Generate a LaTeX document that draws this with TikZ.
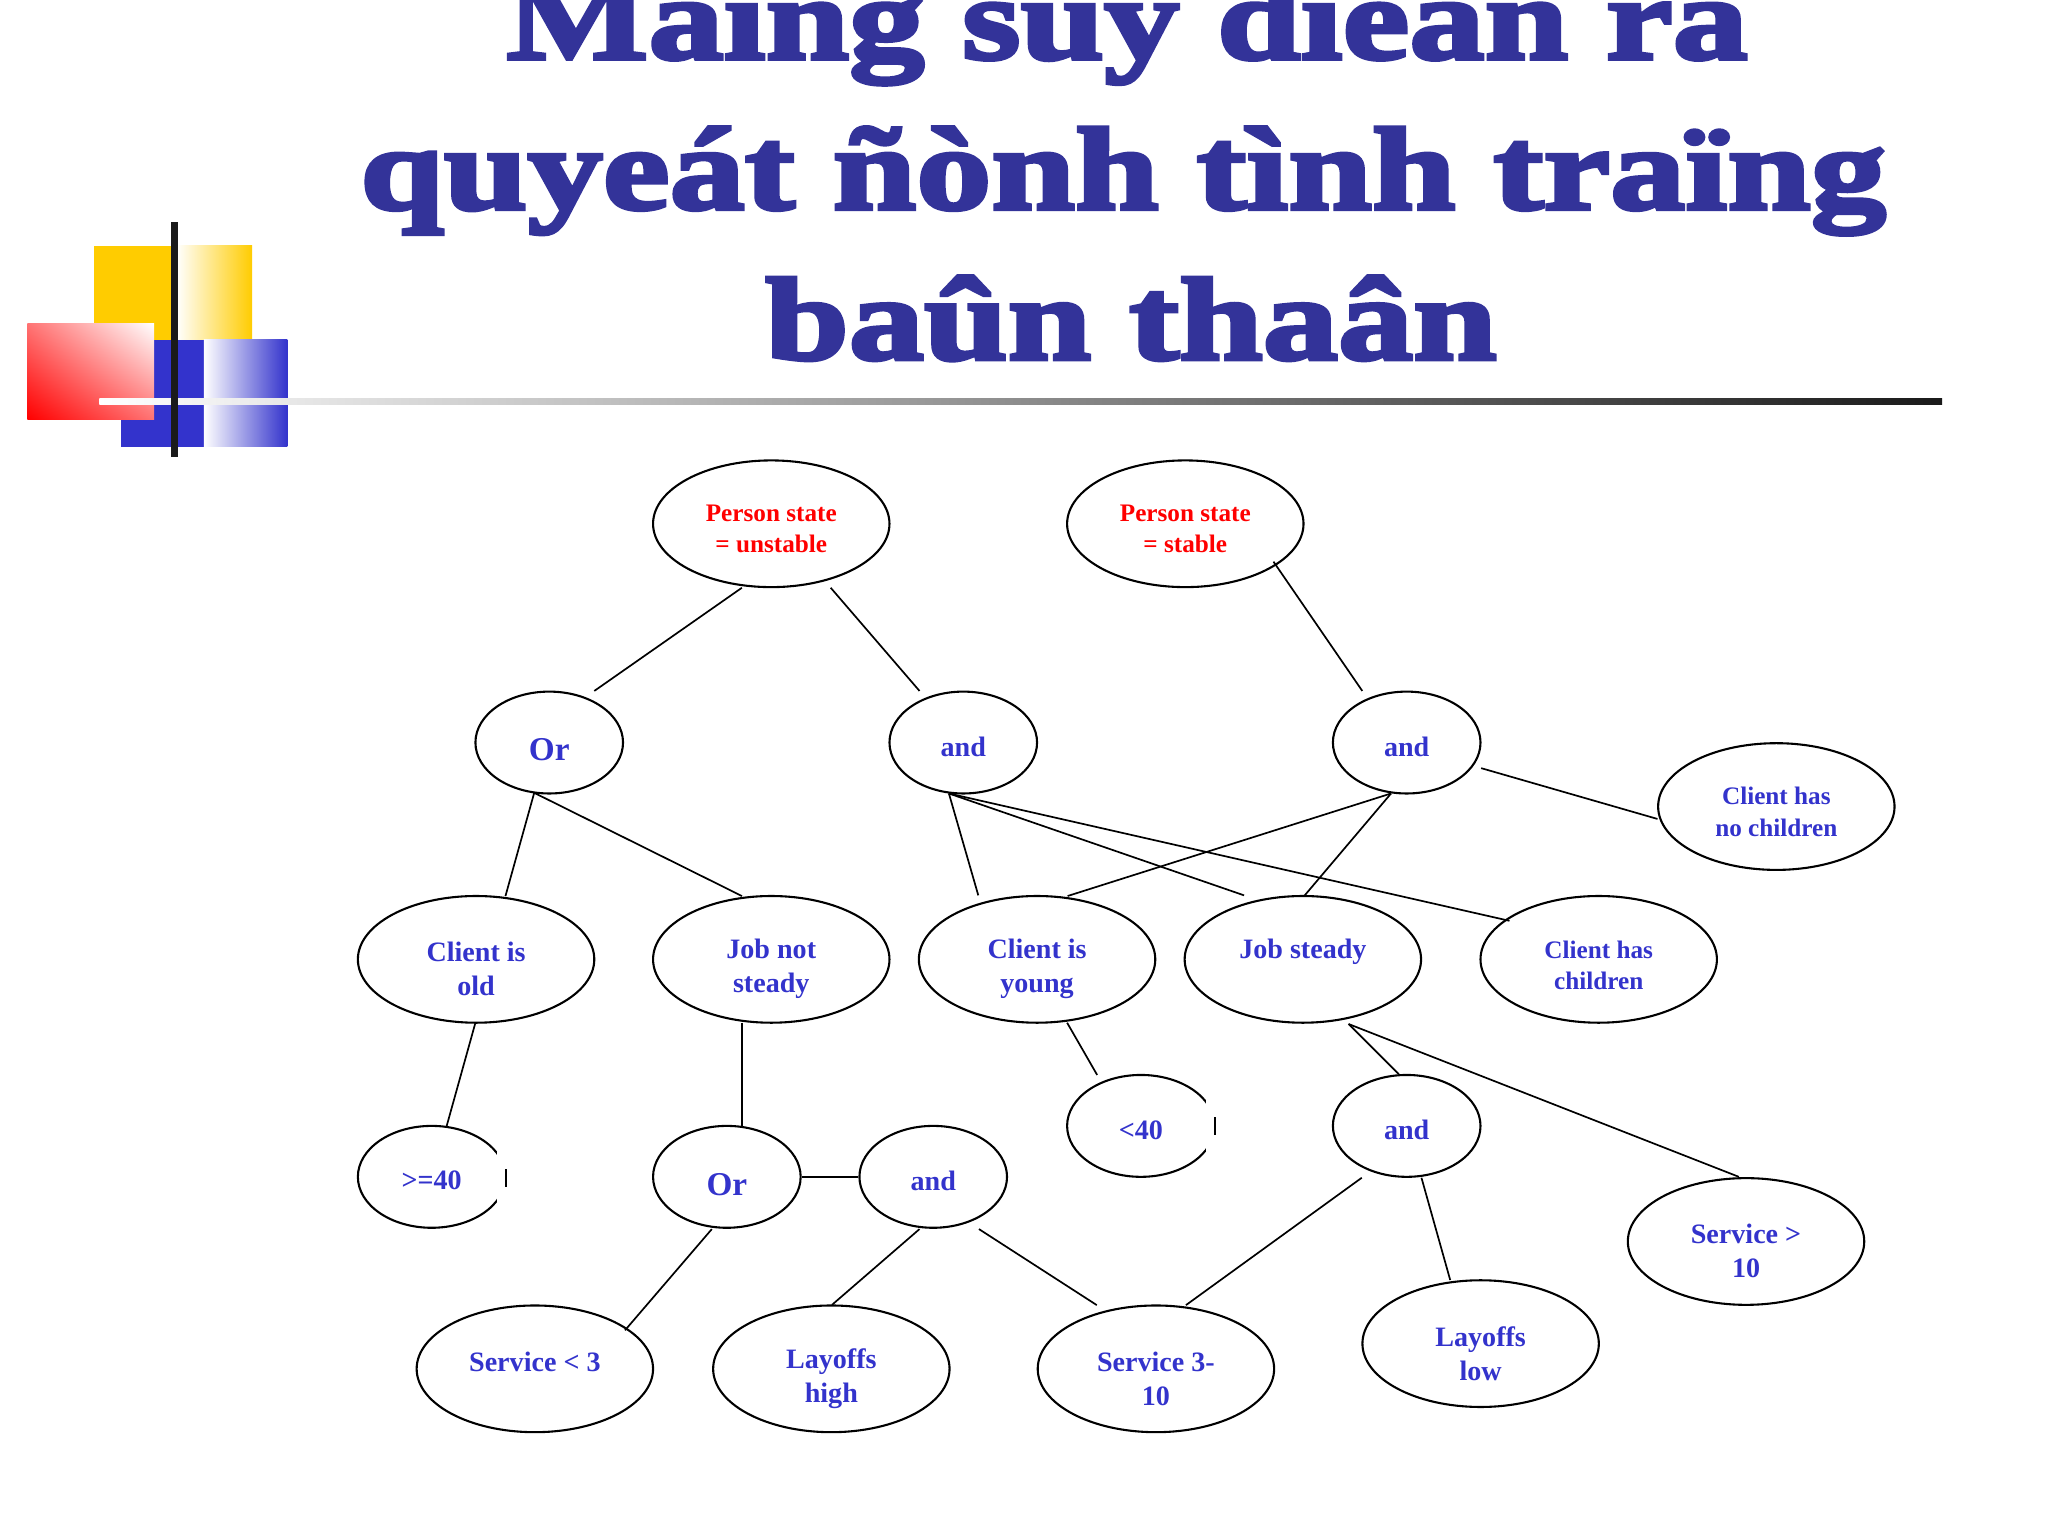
\documentclass[tikz,border=0pt]{standalone}
\usepackage{fontspec}
\setmainfont{Liberation Serif}
\newfontfamily\nodefont{Liberation Serif}
\newfontfamily\titlefont{Liberation Serif}[FakeStretch=1.28, BoldFeatures={FakeBold=3.5}]
\usetikzlibrary{shapes.geometric,shadings}
\definecolor{titleblue}{HTML}{333399}
\definecolor{nodeblue}{HTML}{3333CC}
\definecolor{nodered}{HTML}{FF0000}
\definecolor{decoyellow}{HTML}{FFCC00}
\definecolor{decoblue}{HTML}{3333CC}
\definecolor{barblack}{HTML}{1A1A1A}
\tikzset{
  ell/.style={ellipse, draw=black, line width=1.6pt, inner sep=0pt},
  bigell/.style={ell, minimum width=181pt, minimum height=97pt},
  smallell/.style={ell, minimum width=113pt, minimum height=78pt},
  conn/.style={draw=black, line width=1.3pt},
  txt/.style={font=\nodefont\bfseries\fontsize{21.5}{26}\selectfont, text=nodeblue, align=center, inner sep=0pt},
  txtsm/.style={txt, font=\nodefont\bfseries\fontsize{19.3}{24}\selectfont},
  txtred/.style={txtsm, text=nodered},
  txtbig/.style={txt, font=\nodefont\bfseries\fontsize{25.5}{30}\selectfont},
  titletxt/.style={font=\titlefont\bfseries\fontsize{90}{115}\selectfont, text=titleblue, inner sep=0pt, anchor=base},
  cover/.style={fill=white, draw=none},
}
\begin{document}
\begin{tikzpicture}[x=1pt, y=-1pt]
\useasboundingbox (0,0) rectangle (1568,1176);
\fill[white] (0,0) rectangle (1568,1176);

% decoration
\fill[decoyellow] (72,188) rectangle (135,260);
\shade[left color=white, right color=decoyellow] (135,188) rectangle (193,260);
\fill[decoblue] (93,260) rectangle (156,342);
\shade[left color=white, right color=decoblue] (156,260) rectangle (220,342);
\shade[upper left=red!55, upper right=white, lower left=red, lower right=red!55] (21,248) rectangle (118,321);
\shade[left color=white, right color=barblack] (76,305) rectangle (1487,310);
\fill[barblack] (131,170) rectangle (136,350);

% title
\node[titletxt] (t1) at (863,45) {Maïng suy dieãn ra};
\node[titletxt] (t2) at (860,160) {quyeát ñònh tình traïng};
\node[titletxt] (t3) at (866,275) {baûn thaân};

% ellipses
\node[bigell] (psu) at (590.5,401) {};
\node[bigell] (pss) at (907.5,401) {};
\node[smallell] (or1) at (420.5,568.5) {};
\node[smallell] (and1) at (737.5,568.5) {};
\node[smallell] (and2) at (1077,568.5) {};
\node[bigell] (nochild) at (1360,617.5) {};
\node[bigell] (old) at (364.5,734.5) {};
\node[bigell] (jns) at (590.5,734.5) {};
\node[bigell] (young) at (794,734.5) {};
\node[bigell] (js) at (997.5,734.5) {};
\node[bigell] (child) at (1224,734.5) {};
\node[smallell] (ge40) at (330.5,901) {};
\node[smallell] (lt40) at (873.5,862) {};
\node[smallell] (or2) at (556.5,901) {};
\node[smallell] (and3) at (714.5,901) {};
\node[smallell] (and4) at (1077,862) {};
\node[bigell] (sgt10) at (1336.8,950.5) {};
\node[bigell] (slt3) at (409.5,1048) {};
\node[bigell] (lhigh) at (636.5,1048) {};
\node[bigell] (s310) at (885,1048) {};
\node[bigell] (llow) at (1133.6,1028.7) {};

% broken right sides of the two small ellipses
\fill[cover] (380.5,875) rectangle (390,927);
\draw[line width=1.6pt] (387.2,895) -- (387.2,909);
\fill[cover] (923.5,836) rectangle (933,888);
\draw[line width=1.6pt] (930.2,855.5) -- (930.2,869);

% texts
\node[txtred] (psu-t) at ([yshift=-4pt]psu.center) {Person state\\= unstable};
\node[txtred] (pss-t) at ([yshift=-4pt]pss.center) {Person state\\= stable};
\node[txtbig] (or1-t) at ([yshift=-5.5pt]or1.center) {Or};
\node[txt] (and1-t) at ([yshift=-3.5pt]and1.center) {and};
\node[txt] (and2-t) at ([yshift=-3.5pt]and2.center) {and};
\node[txtsm] (nochild-t) at ([yshift=-4pt]nochild.center) {Client has\\no children};
\node[txt] (old-t) at ([yshift=-7pt]old.center) {Client is\\old};
\node[txt] (jns-t) at ([yshift=-7pt]jns.center) {Job not\\steady};
\node[txt] (young-t) at ([yshift=-7pt]young.center) {Client is\\young};
\node[txt] (js-t) at ([yshift=6pt]js.center) {Job steady};
\node[txtsm] (child-t) at ([yshift=-4.5pt]child.center) {Client has\\children};
\node[txt] (ge40-t) at ([yshift=-3pt]ge40.center) {>=40};
\node[txt] (lt40-t) at ([yshift=-3pt]lt40.center) {<40};
\node[txtbig] (or2-t) at ([yshift=-6pt]or2.center) {Or};
\node[txt] (and3-t) at ([yshift=-3pt]and3.center) {and};
\node[txt] (and4-t) at ([yshift=-3pt]and4.center) {and};
\node[txt] (sgt10-t) at ([yshift=-7pt]sgt10.center) {Service >\\10};
\node[txt] (slt3-t) at ([yshift=5.5pt]slt3.center) {Service < 3};
\node[txt] (lhigh-t) at ([yshift=-7.5pt]lhigh.center) {Layoffs\\high};
\node[txt] (s310-t) at ([yshift=-7.5pt]s310.center) {Service 3-\\10};
\node[txt] (llow-t) at ([yshift=-7.5pt]llow.center) {Layoffs\\low};

% connectors
\draw[conn] ([shift={(-22.5,49)}]psu.center) -- ([shift={(34.5,-39.5)}]or1.center);
\draw[conn] ([shift={(45.5,49)}]psu.center) -- ([shift={(-33.5,-39.5)}]and1.center);
\draw[conn] ([shift={(67.5,29)}]pss.center) -- ([shift={(-34,-39.5)}]and2.center);
\draw[conn] ([shift={(-11.5,38.5)}]or1.center) -- ([shift={(22.5,-48.5)}]old.center);
\draw[conn] ([shift={(-11.5,38.5)}]or1.center) -- ([shift={(-22.5,-48.5)}]jns.center);
\draw[conn] ([shift={(-11,39)}]and1.center) -- ([shift={(-45,-49)}]young.center);
\draw[conn] ([shift={(-11,39)}]and1.center) -- ([shift={(-45,-49)}]js.center);
\draw[conn] ([shift={(-11,39)}]and1.center) -- ([shift={(-68.3,-29.5)}]child.center);
\draw[conn] ([shift={(-12,39)}]and2.center) -- ([shift={(23.4,-48.5)}]young.center);
\draw[conn] ([shift={(-12,39)}]and2.center) -- ([shift={(1,-48.5)}]js.center);
\draw[conn] ([shift={(57,19.6)}]and2.center) -- ([shift={(-91,9.5)}]nochild.center);
\draw[conn] ([shift={(-0.5,48.5)}]old.center) -- ([shift={(11.5,-39)}]ge40.center);
\draw[conn] ([shift={(-22.5,48.5)}]jns.center) -- ([shift={(11.5,-39)}]or2.center);
\draw[conn] ([shift={(23,48.5)}]young.center) -- ([shift={(-33.5,-39)}]lt40.center);
\draw[conn] ([shift={(35,49.5)}]js.center) -- ([shift={(-6,-39.5)}]and4.center);
\draw[conn] ([shift={(35,49.5)}]js.center) -- ([shift={(-5.5,-49.5)}]sgt10.center);
\draw[conn] (or2.east) -- (and3.west);
\draw[conn] ([shift={(-11.5,40)}]or2.center) -- ([shift={(69,-29.5)}]slt3.center);
\draw[conn] ([shift={(-10.5,40)}]and3.center) -- ([shift={(0.5,-49)}]lhigh.center);
\draw[conn] ([shift={(35,40)}]and3.center) -- ([shift={(-45.3,-48.8)}]s310.center);
\draw[conn] ([shift={(-34.4,39.7)}]and4.center) -- ([shift={(23,-48.8)}]s310.center);
\draw[conn] ([shift={(11.3,39.7)}]and4.center) -- ([shift={(-23.3,-48.7)}]llow.center);
\end{tikzpicture}
\end{document}
